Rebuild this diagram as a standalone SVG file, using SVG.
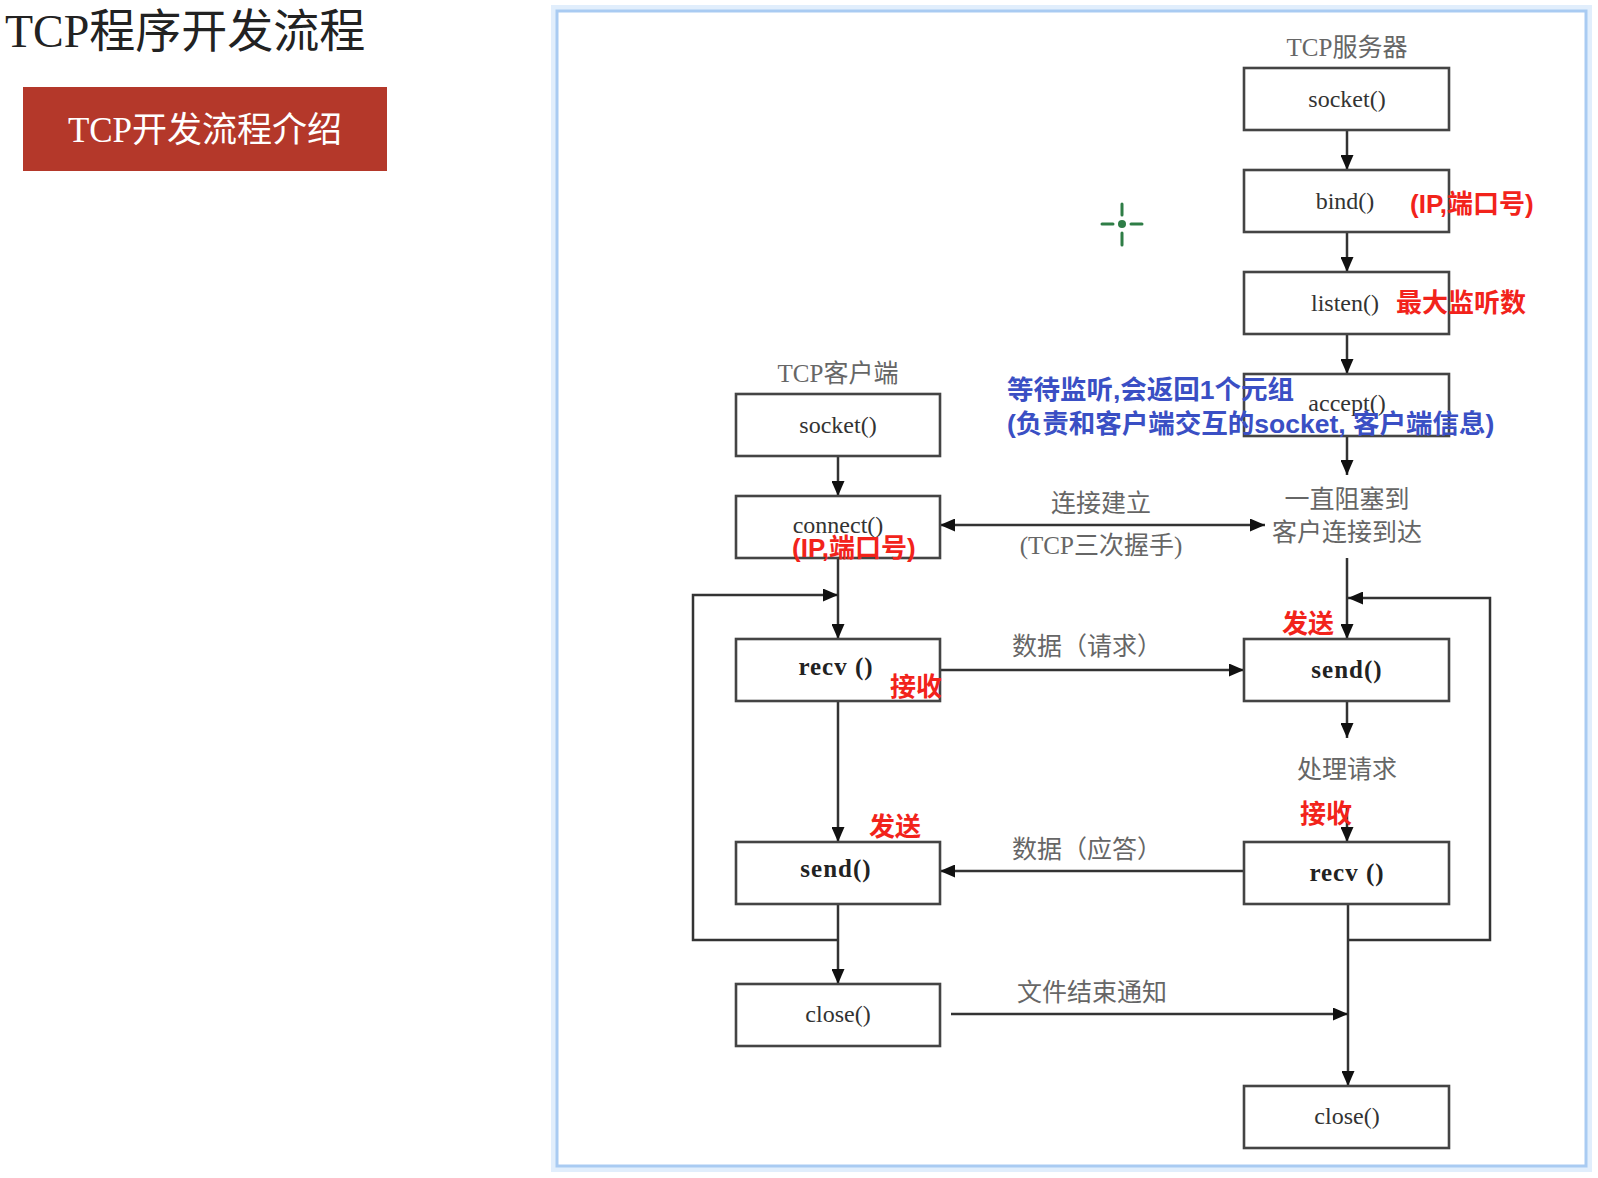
<svg xmlns="http://www.w3.org/2000/svg" width="1598" height="1178" viewBox="0 0 1598 1178">
<style>
.box{fill:#fff;stroke:#444;stroke-width:2.6}
.fn{font-family:"Liberation Serif",serif;font-size:24px;fill:#333;text-anchor:middle}
.fnb{font-family:"Liberation Serif",serif;font-size:25px;font-weight:bold;fill:#222;text-anchor:middle;letter-spacing:1px}
.lbl{font-family:"Liberation Serif","Noto Sans CJK SC",serif;font-size:25px;fill:#666;text-anchor:middle}
.red{font-family:"Liberation Sans","Noto Sans CJK SC",sans-serif;font-size:26px;font-weight:bold;fill:#f2231b}
.blue{font-family:"Liberation Sans","Noto Sans CJK SC",sans-serif;font-size:26.5px;font-weight:bold;fill:#3a4fc4}
.ln{fill:none;stroke:#333;stroke-width:2.5}
</style>
<defs>
<marker id="ah" markerWidth="15" markerHeight="13" refX="15" refY="6.5" orient="auto-start-reverse" markerUnits="userSpaceOnUse">
<path d="M0,0 L15,6.5 L0,13 z" fill="#111"/>
</marker>
</defs>
<rect width="1598" height="1178" fill="#fff"/>
<text x="5" y="47" font-family="Liberation Serif,'Noto Sans CJK SC',serif" font-size="46" fill="#222">TCP程序开发流程</text>
<g id="tag">
<rect x="23" y="87" width="364" height="84" fill="#b4382a"/>
<text x="205" y="142" font-family="Liberation Serif,'Noto Sans CJK SC',serif" font-size="35" fill="#fff" text-anchor="middle">TCP开发流程介绍</text>
</g>
<g id="panel">
<rect x="555" y="9" width="1033" height="1159" fill="none" stroke="#e1eefc" stroke-width="8"/>
<rect x="557" y="11" width="1029" height="1155" fill="#fff" stroke="#a9cbf2" stroke-width="3"/>
</g>
<g id="cursor" stroke="#2e7d46" stroke-width="3" stroke-linecap="round">
<line x1="1102" y1="224" x2="1113" y2="224"/>
<line x1="1131" y1="224" x2="1142" y2="224"/>
<line x1="1122" y1="204" x2="1122" y2="215"/>
<line x1="1122" y1="233" x2="1122" y2="245"/>
<circle cx="1122" cy="224" r="4" fill="#2e7d46" stroke="none"/>
</g>
<g id="connectors">
<line class="ln" x1="1347" y1="130" x2="1347" y2="170" marker-end="url(#ah)"/>
<line class="ln" x1="1347" y1="232" x2="1347" y2="272" marker-end="url(#ah)"/>
<line class="ln" x1="1347" y1="334" x2="1347" y2="374" marker-end="url(#ah)"/>
<line class="ln" x1="1347" y1="436" x2="1347" y2="475" marker-end="url(#ah)"/>
<line class="ln" x1="1347" y1="558" x2="1347" y2="639" marker-end="url(#ah)"/>
<polyline class="ln" points="1348,940 1490,940 1490,598 1348,598" marker-end="url(#ah)"/>
<line class="ln" x1="1347" y1="701" x2="1347" y2="738" marker-end="url(#ah)"/>
<line class="ln" x1="1347" y1="806" x2="1347" y2="842" marker-end="url(#ah)"/>
<line class="ln" x1="1348" y1="904" x2="1348" y2="1086" marker-end="url(#ah)"/>
<line class="ln" x1="838" y1="456" x2="838" y2="496" marker-end="url(#ah)"/>
<line class="ln" x1="838" y1="558" x2="838" y2="639" marker-end="url(#ah)"/>
<polyline class="ln" points="838,940 693,940 693,595 838,595" marker-end="url(#ah)"/>
<line class="ln" x1="838" y1="701" x2="838" y2="842" marker-end="url(#ah)"/>
<line class="ln" x1="838" y1="904" x2="838" y2="984" marker-end="url(#ah)"/>
<line class="ln" x1="940" y1="525" x2="1265" y2="525" marker-start="url(#ah)" marker-end="url(#ah)"/>
<line class="ln" x1="940" y1="670" x2="1244" y2="670" marker-end="url(#ah)"/>
<line class="ln" x1="1244" y1="871" x2="940" y2="871" marker-end="url(#ah)"/>
<line class="ln" x1="951" y1="1014" x2="1348" y2="1014" marker-end="url(#ah)"/>
<text class="lbl" x="1101" y="512">连接建立</text>
<text class="lbl" x="1101" y="554">(TCP三次握手)</text>
<text class="lbl" x="1087" y="655">数据（请求）</text>
<text class="lbl" x="1087" y="858">数据（应答）</text>
<text class="lbl" x="1092" y="1001">文件结束通知</text>
</g>
<text class="lbl" x="1347" y="56">TCP服务器</text>
<text class="lbl" x="838" y="382">TCP客户端</text>
<g id="s_socket"><rect class="box" x="1244" y="68" width="205" height="62"/><text class="fn" x="1347" y="107">socket()</text></g>
<g id="s_bind"><rect class="box" x="1244" y="170" width="205" height="62"/><text class="fn" x="1345" y="209">bind()</text></g>
<g id="s_listen"><rect class="box" x="1244" y="272" width="205" height="62"/><text class="fn" x="1345" y="311">listen()</text></g>
<g id="s_accept"><rect class="box" x="1244" y="374" width="205" height="62"/><text class="fn" x="1347" y="411">accept()</text></g>
<g id="s_block"><text class="lbl" x="1347" y="508">一直阻塞到</text><text class="lbl" x="1347" y="541">客户连接到达</text></g>
<g id="s_send"><rect class="box" x="1244" y="639" width="205" height="62"/><text class="fnb" x="1347" y="678">send()</text></g>
<g id="s_proc"><text class="lbl" x="1347" y="778">处理请求</text></g>
<g id="s_recv"><rect class="box" x="1244" y="842" width="205" height="62"/><text class="fnb" x="1347" y="881">recv ()</text></g>
<g id="s_close"><rect class="box" x="1244" y="1086" width="205" height="62"/><text class="fn" x="1347" y="1124">close()</text></g>
<g id="c_socket"><rect class="box" x="736" y="394" width="204" height="62"/><text class="fn" x="838" y="433">socket()</text></g>
<g id="c_connect"><rect class="box" x="736" y="496" width="204" height="62"/><text class="fn" x="838" y="533">connect()</text></g>
<g id="c_recv"><rect class="box" x="736" y="639" width="204" height="62"/><text class="fnb" x="836" y="675">recv ()</text></g>
<g id="c_send"><rect class="box" x="736" y="842" width="204" height="62"/><text class="fnb" x="836" y="877">send()</text></g>
<g id="c_close"><rect class="box" x="736" y="984" width="204" height="62"/><text class="fn" x="838" y="1022">close()</text></g>
<g id="notes">
<text class="red" x="1410" y="213">(IP,端口号)</text>
<text class="red" x="1396" y="312">最大监听数</text>
<text class="blue" x="1007" y="399">等待监听,会返回1个元组</text>
<text class="blue" x="1007" y="433">(负责和客户端交互的socket, 客户端信息)</text>
<text class="red" x="792" y="557">(IP,端口号)</text>
<text class="red" x="890" y="696">接收</text>
<text class="red" x="1282" y="633">发送</text>
<text class="red" x="869" y="836">发送</text>
<text class="red" x="1300" y="823">接收</text>
</g>
</svg>
